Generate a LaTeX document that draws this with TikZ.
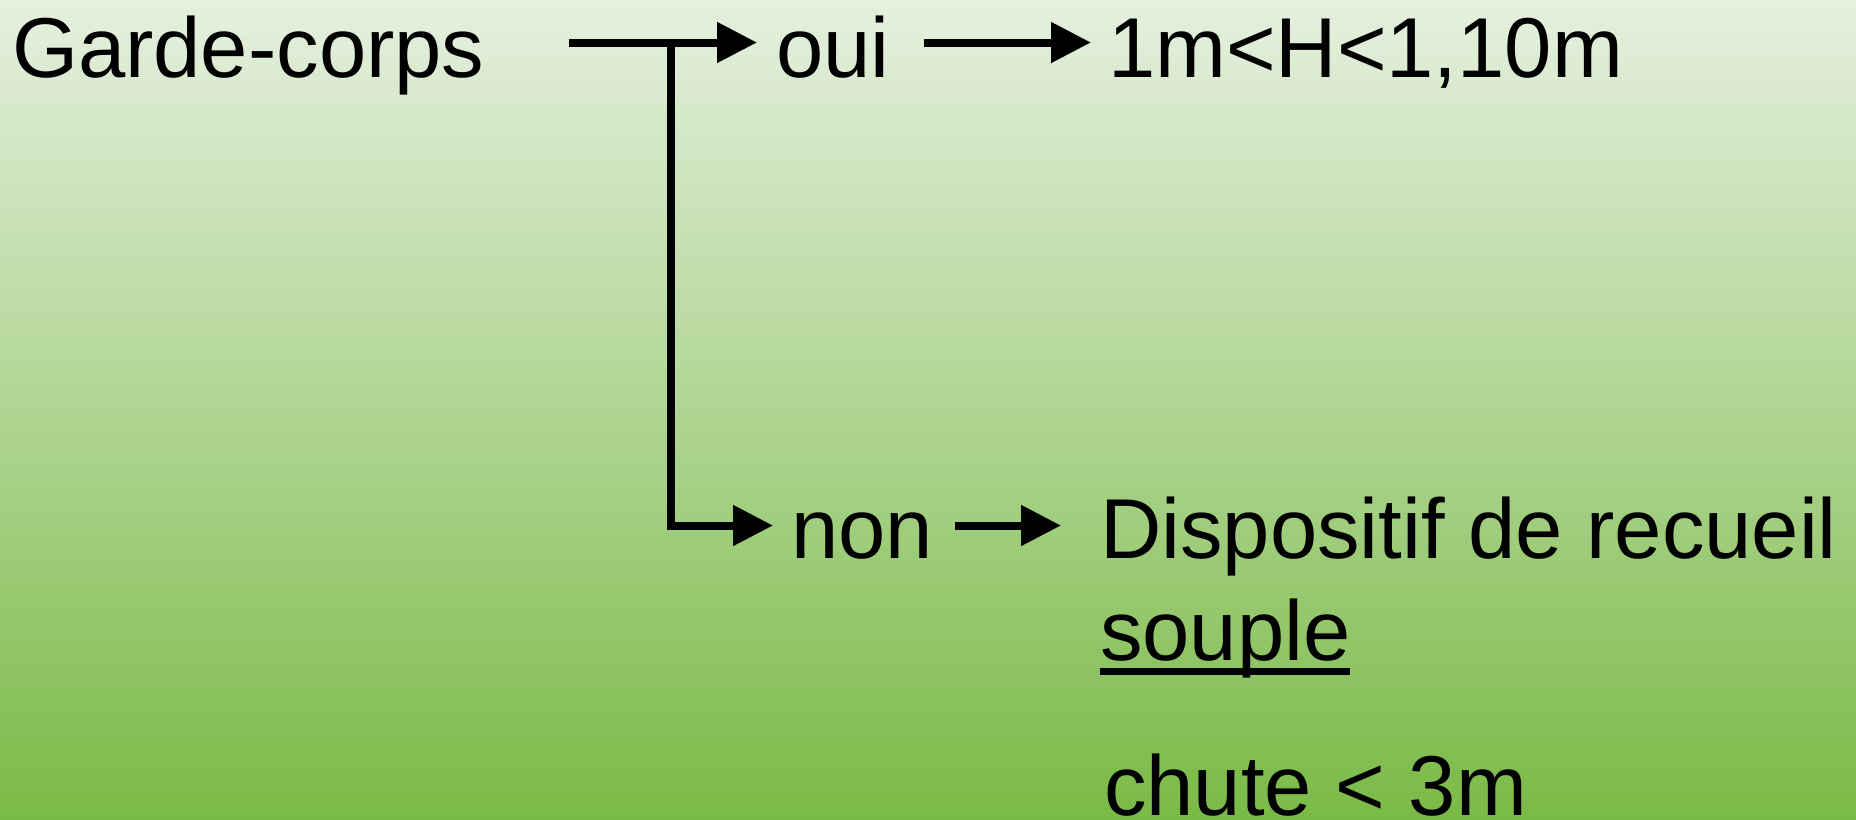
\documentclass[tikz,border=0pt]{standalone}
\usepackage{fontspec}
\setmainfont{Liberation Sans}
\usetikzlibrary{arrows.meta}
\definecolor{bgtop}{RGB}{229,240,223}
\definecolor{bgbot}{RGB}{122,186,70}
\tikzset{
  lbl/.style={inner sep=0pt, outer sep=0pt, anchor=base west, font=\fontsize{42.5pt}{50pt}\selectfont, text=black},
  conn/.style={line width=4pt, black, line join=miter},
  arr/.style={conn, -{Triangle[length=20pt,width=19.5pt]}},
  uline/.style={line width=3.5pt, black}
}
\begin{document}
\begin{tikzpicture}[x=0.5pt,y=-0.5pt]
\useasboundingbox (0,0) rectangle (1856,819);
\shade[top color=bgtop, bottom color=bgbot] (0,0) rectangle (1856,819);
% text nodes
\node[lbl] (gc) at (12,77) {Garde-corps};
\node[lbl] (oui) at (776,77) {oui};
\node[lbl] (h) at (1108,77) {1m<H<1,10m};
\node[lbl] (non) at (791,558) {non};
\node[lbl] (disp) at (1100,558) {Dispositif de recueil};
\node[lbl] (souple) at (1100,660) {souple};
\node[lbl] (chute) at (1104,815) {chute < 3m};
% row levels
\coordinate (r1) at (0,42.5);
\coordinate (r2) at (0,525.5);
\coordinate (j) at (671,42.5);
% connectors
\draw[arr, shorten <=42.5pt, shorten >=9.5pt] (gc.east |- r1) -- (oui.west |- r1);
\draw[arr, shorten >=9pt] (j) |- (non.west |- r2);
\draw[arr, shorten <=17.5pt, shorten >=8.5pt] (oui.east |- r1) -- (h.west |- r1);
\draw[arr, shorten <=11pt, shorten >=19.5pt] (non.east |- r2) -- (disp.west |- r2);
% underline of "souple"
\draw[uline] ([yshift=-5.75pt]souple.base west) -- ([yshift=-5.75pt]souple.base east);
\end{tikzpicture}
\end{document}
